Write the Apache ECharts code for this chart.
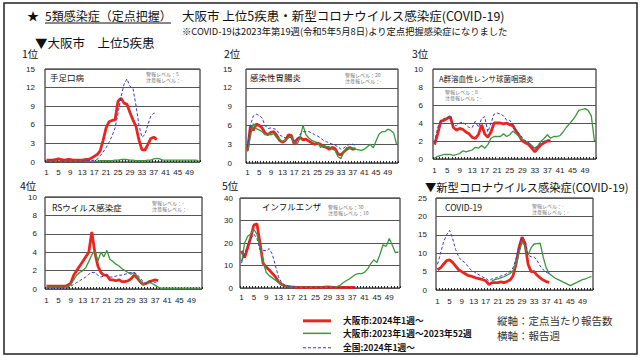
<!DOCTYPE html>
<html><head><meta charset="utf-8">
<script src="https://cdn.jsdelivr.net/npm/echarts@6/dist/echarts.min.js"></script>
<style>html,body{margin:0;padding:0;background:#fff}#c{width:640px;height:357px}</style>
</head><body><div id="c"></div>
<script>
// ---------- data ----------
const weeks = ['1','2','3','4','5','6','7','8','9','10','11','12','13','14','15','16','17','18','19','20','21','22','23','24','25','26','27','28','29','30','31','32','33','34','35','36','37','38','39','40','41','42','43','44','45','46','47','48','49','50','51','52'];

const diseaseNames = ['手足口病','感染性胃腸炎','A群溶血性レンサ球菌咽頭炎','RSウイルス感染症','インフルエンザ','COVID-19'];
const alertNotes = ['警報レベル：5\n注意報レベル：-','警報レベル：20\n注意報レベル：-','警報レベル：8\n注意報レベル：-','警報レベル：-\n注意報レベル：-','警報レベル：30\n注意報レベル：10','警報レベル：-\n注意報レベル：-'];
const rankLabels = ['1位','2位','3位','4位','5位'];
const yMax = [15,15,10,10,40,25];
const yStep = [3,3,2,2,10,5];

const seriesNames = ['大阪市:2024年1週〜','大阪市:2023年1週〜2023年52週','全国:2024年1週〜'];

// 手足口病
const hfmdOsaka2024 = [0.3,0.3,0.3,0.4,0.5,0.4,0.3,0.4,0.4,0.3,0.3,0.3,0.3,0.4,0.4,0.6,0.9,1.2,1.8,3.5,5.5,6.5,6.7,6.8,9.8,10.3,9.5,9.3,8.0,6.8,5.8,3.6,2.0,1.9,2.8,3.8,4.0,3.6];
const hfmdOsaka2023 = [0.1,0.1,0.1,0.1,0.1,0.1,0.1,0.1,0.1,0.1,0.1,0.1,0.1,0.1,0.1,0.1,0.1,0.1,0.2,0.2,0.2,0.2,0.2,0.3,0.3,0.4,0.4,0.4,0.3,0.3,0.2,0.2,0.2,0.2,0.3,0.3,0.5,0.6,0.5,0.3,0.3,0.3,0.3,0.3,0.3,0.3,0.3,0.3,0.3,0.3,0.3,0.2];
const hfmdNational2024 = [0.1,0.1,0.1,0.1,0.1,0.1,0.1,0.1,0.1,0.1,0.1,0.1,0.1,0.2,0.2,0.25,0.3,0.4,1.0,1.6,2.3,3.2,4.2,5.5,7.8,10.5,12.5,13.4,12.2,11.9,9.2,6.0,4.0,4.4,6.0,7.4,7.9,7.8];

// 感染性胃腸炎
const gastroOsaka2024 = [2.0,5.8,5.2,6.2,6.0,5.6,4.8,4.5,4.9,5.0,4.4,3.6,3.3,3.6,4.5,4.4,3.0,3.8,4.1,3.7,3.8,3.5,3.2,3.0,3.2,3.0,2.6,2.5,2.2,2.5,2.3,1.4,1.3,1.8,2.2,2.5,2.2,2.3];
const gastroOsaka2023 = [1.8,4.2,6.3,5.5,5.3,5.0,4.5,4.7,4.5,4.7,4.0,3.8,3.4,3.6,4.0,4.2,3.2,3.0,4.0,6.0,4.5,4.0,3.6,3.4,3.2,2.5,2.8,2.6,2.6,2.2,2.0,1.0,0.7,1.8,2.5,2.3,2.4,2.2,2.1,2.0,2.2,2.6,3.0,2.4,3.5,4.6,5.0,5.0,5.4,5.2,4.8,3.0];
const gastroNational2024 = [2.5,6.0,7.5,7.8,7.6,7.2,6.0,5.5,5.6,5.5,5.3,4.5,4.2,4.0,4.2,4.0,3.6,3.7,4.6,5.0,5.0,5.0,4.8,4.5,4.3,4.0,3.6,3.4,3.2,3.0,2.8,2.6,2.2,2.4,2.8,3.0,3.0,2.8];

// A群溶血性レンサ球菌咽頭炎
const strepOsaka2024 = [1.6,2.8,4.2,4.3,4.5,4.7,3.5,3.2,3.4,3.3,3.0,2.8,2.4,2.3,2.7,3.8,2.8,2.4,3.0,4.0,4.0,4.0,3.9,4.0,3.8,3.7,3.1,2.6,2.0,1.8,1.6,1.2,0.8,1.2,1.6,1.8,2.0,2.0];
const strepOsaka2023 = [0.1,0.3,0.4,0.5,0.5,0.5,0.4,0.5,0.6,0.9,0.8,0.9,1.0,1.3,1.2,1.5,1.2,1.6,2.3,2.5,2.5,2.5,2.8,2.5,2.7,3.1,2.8,2.5,2.2,2.0,1.8,1.5,1.2,1.5,2.0,2.3,2.7,2.3,2.5,2.5,2.6,3.0,3.5,3.9,4.3,4.8,5.4,5.5,5.6,5.4,4.8,2.0];
const strepNational2024 = [1.8,3.5,4.2,4.5,4.6,4.8,3.8,3.7,4.0,4.1,3.8,3.5,3.5,4.2,3.5,4.5,4.7,3.0,4.0,5.0,5.1,5.0,4.8,4.3,4.3,3.8,3.2,2.8,2.4,2.0,1.8,1.4,1.1,1.5,1.8,2.0,2.1,2.1];

// RSウイルス感染症
const rsvOsaka2024 = [0.3,0.3,0.3,0.3,0.3,0.3,0.3,0.4,0.6,1.5,2.0,2.5,3.0,3.5,4.0,6.2,4.0,2.5,1.8,1.5,1.5,1.0,1.0,0.9,1.0,0.8,0.8,0.9,1.1,1.5,1.2,0.8,0.5,0.6,0.8,0.9,1.0,0.9];
const rsvOsaka2023 = [0.2,0.2,0.2,0.2,0.2,0.2,0.2,0.2,0.5,1.0,1.5,1.8,2.0,2.3,3.0,3.7,4.2,3.0,4.0,3.5,4.2,3.2,3.0,2.7,2.5,2.2,2.0,1.8,1.6,1.8,1.4,0.9,0.5,0.6,0.7,0.6,0.4,0.2,0.1,0.1,0.1,0.1,0.1,0.1,0.1,0.1,0.1,0.1,0.1,0.1,0.1,0.1];
const rsvNational2024 = [0.1,0.1,0.1,0.1,0.1,0.1,0.1,0.1,0.3,0.5,0.7,0.9,1.1,1.3,1.6,1.8,1.8,1.5,1.3,1.4,1.5,1.3,1.3,1.4,1.5,1.5,1.6,1.7,1.8,1.8,1.6,1.2,0.8,0.6,0.8,0.8,0.7,0.6];

// インフルエンザ
const fluOsaka2024 = [16.5,13.5,18,22.5,28,28.5,20,11,9.3,8,6.5,5,2.8,1.6,1,0.7,0.5,0.4,0.3,0.3,0.3,0.3,0.3,0.3,0.3,0.3,0.3,0.4,0.5,0.4,0.3,0.3,0.3,0.3,0.3,0.3,0.3,0.3];
const fluOsaka2023 = [11,20,23,24,26,24,18,12,7,5.5,4.5,3.5,2.5,1.5,1,0.7,0.5,0.3,0.3,0.3,0.3,0.3,0.3,0.3,0.3,0.3,0.3,0.3,0.3,0.3,0.3,0.5,1.2,2.3,3.2,4,5,6,6.4,6.4,7,8.5,10.8,12.5,11.3,15,19.2,18.5,22,19,15.7,16];
const fluNational2024 = [12,15,19,22,24,22,17,16.8,16.5,17.5,15,10,5,2.5,1.2,0.8,0.5,0.4,0.3,0.3,0.3,0.3,0.3,0.3,0.3,0.3,0.3,0.3,0.3,0.3,0.3,0.3,0.3,0.3,0.3,0.3,0.3,0.3];

// COVID-19
const covidOsaka2024 = [5.5,6,7,8,8.2,7.5,6.5,5.5,5,4.5,4,3.8,3.5,3.2,3,2.8,2.5,1.5,2,2,2,2.2,2,2.3,2.7,3.8,7,11.5,14.4,12.5,7,5,5,4,3.3,2.7,2.3,2.1];
const covidOsaka2023 = [null,null,null,null,null,null,null,null,null,null,null,null,null,null,null,null,null,null,2.5,2.8,3,3.3,3.6,4,4.5,5.2,7,10,13,12,9.5,11.5,12.5,12.6,12.7,9,6,4.5,3.8,3.2,2.8,2.4,2,1.6,1.2,1.6,2,2.4,2.8,3,3.4,3.7];
const covidNational2024 = [7,10,13,15,16.2,14,11,9,8,7.5,6.5,5.5,5,4.5,4,3.5,3.2,2.5,3,3.2,3.5,3.8,4,4.5,5,6,8.5,12,14.5,13.5,9.5,9,9,8,6.5,5.5,4.8,4.5];

const panelData = [
  [hfmdOsaka2024, hfmdOsaka2023, hfmdNational2024],
  [gastroOsaka2024, gastroOsaka2023, gastroNational2024],
  [strepOsaka2024, strepOsaka2023, strepNational2024],
  [rsvOsaka2024, rsvOsaka2023, rsvNational2024],
  [fluOsaka2024, fluOsaka2023, fluNational2024],
  [covidOsaka2024, covidOsaka2023, covidNational2024]
];

// ---------- layout ----------
const grids = [
  {left:45, top:69, width:155, height:93},
  {left:246, top:69, width:152, height:94},
  {left:433, top:69, width:163, height:90},
  {left:45, top:197, width:157, height:92},
  {left:240, top:198, width:160, height:90},
  {left:436, top:198, width:157, height:92}
];
const yLabelMargin = [10,14,10,8,7,9];
const xLabelMargin = [6,5,7,7,5,7];
const titlePos = [[50,77],[250,77],[439,78],[52,207],[262,206],[445,207]];
const titleSize = [8.5,8.5,7.5,8.5,8.5,8.5];
const notePos = [[146,70],[345,71],[445,88],[152,199],[328,203],[532,202]];
const rankPos = [[22,53],[224,53],[412,53],[20,185],[222,185]];

const numFont = "'Liberation Sans', Arial, 'Noto Sans CJK JP', sans-serif";
const jpFont = "'Noto Sans CJK JP', sans-serif";
const colors = ['#e8251f','#3c963c','#3a3ac8'];

const xAxes = [], yAxes = [], series = [];
grids.forEach((g,i)=>{
  g.show = true; g.borderColor = '#111'; g.borderWidth = 1; g.backgroundColor = '#fff';
  xAxes.push({
    type:'category', gridIndex:i, data:weeks, boundaryGap:true,
    axisLine:{show:false},
    axisTick:{show:true, inside:true, length:2, interval:0, lineStyle:{color:'#222', width:1}},
    axisLabel:{interval:3, fontSize:8, color:'#222', fontFamily:numFont, margin:xLabelMargin[i], hideOverlap:false},
    splitLine:{show:false}
  });
  yAxes.push({
    type:'value', gridIndex:i, min:0, max:yMax[i], interval:yStep[i],
    axisLine:{show:false}, axisTick:{show:false},
    axisLabel:{fontSize:8, color:'#222', fontFamily:numFont, margin:yLabelMargin[i]},
    splitLine:{show:true, lineStyle:{color:'#555', width:1}}
  });
  const d = panelData[i];
  series.push({
    type:'line', name:seriesNames[0], xAxisIndex:i, yAxisIndex:i, data:d[0], symbol:'none',
    lineStyle:{color:colors[0], width:2.8}, itemStyle:{color:colors[0]}, z:2
  });
  series.push({
    type:'line', name:seriesNames[1], xAxisIndex:i, yAxisIndex:i, data:d[1], symbol:'none',
    lineStyle:{color:colors[1], width:1.3}, itemStyle:{color:colors[1]}, z:3
  });
  series.push({
    type:'line', name:seriesNames[2], xAxisIndex:i, yAxisIndex:i, data:d[2], symbol:'none',
    lineStyle:{color:colors[2], width:1, type:[3,2]}, itemStyle:{color:colors[2]}, z:4
  });
});

const graphic = [
  {type:'rect', shape:{x:4, y:3, width:633, height:351}, style:{fill:'none', stroke:'#222', lineWidth:1.5}, z:-10},
  {type:'text', style:{x:27, y:15, text:'★', font:'12px '+jpFont, fill:'#111', verticalAlign:'middle'}},
  {type:'text', style:{x:45, y:15, text:'5類感染症（定点把握）', font:'12px '+jpFont, fill:'#111', verticalAlign:'middle'}},
  {type:'line', shape:{x1:45, y1:23, x2:171, y2:23}, style:{stroke:'#111', lineWidth:1}},
  {type:'text', style:{x:182, y:15, text:'大阪市 上位5疾患・新型コロナウイルス感染症(COVID-19)', font:'12.5px '+jpFont, fill:'#111', verticalAlign:'middle'}},
  {type:'text', style:{x:182, y:30.5, text:'※COVID-19は2023年第19週(令和5年5月8日)より定点把握感染症になりました', font:'9.3px '+jpFont, fill:'#111', verticalAlign:'middle'}},
  {type:'text', style:{x:35, y:42, text:'▼大阪市　上位5疾患', font:'12.5px '+jpFont, fill:'#111', verticalAlign:'middle'}},
  {type:'text', style:{x:425, y:187, text:'▼新型コロナウイルス感染症(COVID-19)', font:'11.3px '+jpFont, fill:'#111', verticalAlign:'middle'}},
  {type:'text', style:{x:497, y:320, text:'縦軸：定点当たり報告数', font:'10.5px '+jpFont, fill:'#333', verticalAlign:'middle'}},
  {type:'text', style:{x:497, y:335, text:'横軸：報告週', font:'10.5px '+jpFont, fill:'#333', verticalAlign:'middle'}}
];
rankLabels.forEach((t,i)=>{
  graphic.push({type:'text', style:{x:rankPos[i][0], y:rankPos[i][1], text:t, font:'10.5px '+jpFont, fill:'#111', verticalAlign:'middle'}});
});
diseaseNames.forEach((t,i)=>{
  graphic.push({type:'text', z:20, style:{x:titlePos[i][0], y:titlePos[i][1], text:t, font:titleSize[i]+'px '+jpFont, fill:'#111', verticalAlign:'middle'}});
  graphic.push({type:'text', z:20, style:{x:notePos[i][0], y:notePos[i][1], text:alertNotes[i], font:'5px '+jpFont, lineHeight:6, fill:'#777', verticalAlign:'top'}});
});

const legendTops = [316.5, 329, 343.5];
const legendIcons = [
  'rect',
  'rect',
  'path://M0,0h3v1h-3z M5,0h3v1h-3z M10,0h3v1h-3z M15,0h3v1h-3z M20,0h3v1h-3z M25,0h3v1h-3z'
];
const legendIconH = [3, 1.5, 1];
const legends = seriesNames.map((n,i)=>({
  data:[n], orient:'vertical', left:303, top:legendTops[i], padding:0,
  itemWidth:28, itemHeight:legendIconH[i], icon:legendIcons[i],
  itemStyle:{color:colors[i]},
  selectedMode:false,
  textStyle:{fontSize:8.7, fontWeight:'bold', color:'#111', fontFamily:jpFont, padding:[0,0,0,7]}
}));

const chart = echarts.init(document.getElementById('c'), null, {renderer:'svg', width:640, height:357});
chart.setOption({
  animation:false,
  backgroundColor:'#fff',
  grid:grids, xAxis:xAxes, yAxis:yAxes, series:series,
  legend:legends,
  graphic:graphic
});
</script>
</body></html>
